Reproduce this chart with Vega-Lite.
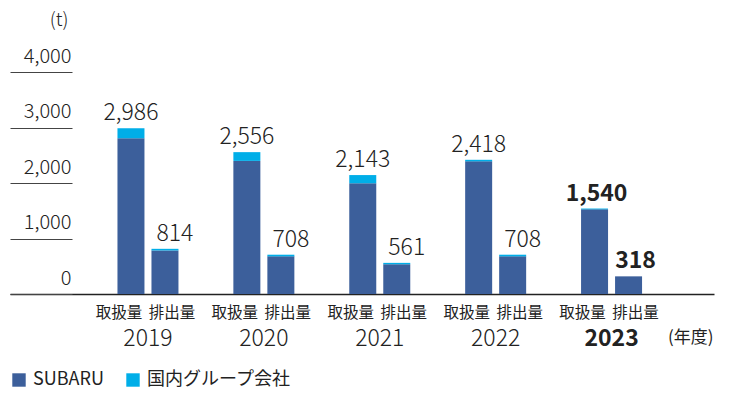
{
  "$schema": "https://vega.github.io/schema/vega-lite/v6.json",
  "width": 704,
  "height": 222,
  "autosize": "none",
  "padding": {"left": 10, "top": 72, "right": 16, "bottom": 99},
  "config": {
    "view": {"stroke": null},
    "font": "Noto Sans CJK JP",
    "text": {"font": "Noto Sans CJK JP", "color": "#222222"}
  },
  "data": {
    "values": [
      {"year": "2019", "cat": "取扱量", "company": "SUBARU", "value": 2807},
      {"year": "2019", "cat": "取扱量", "company": "国内グループ会社", "value": 179},
      {"year": "2019", "cat": "排出量", "company": "SUBARU", "value": 784},
      {"year": "2019", "cat": "排出量", "company": "国内グループ会社", "value": 30},
      {"year": "2020", "cat": "取扱量", "company": "SUBARU", "value": 2398},
      {"year": "2020", "cat": "取扱量", "company": "国内グループ会社", "value": 158},
      {"year": "2020", "cat": "排出量", "company": "SUBARU", "value": 678},
      {"year": "2020", "cat": "排出量", "company": "国内グループ会社", "value": 30},
      {"year": "2021", "cat": "取扱量", "company": "SUBARU", "value": 1995},
      {"year": "2021", "cat": "取扱量", "company": "国内グループ会社", "value": 148},
      {"year": "2021", "cat": "排出量", "company": "SUBARU", "value": 536},
      {"year": "2021", "cat": "排出量", "company": "国内グループ会社", "value": 25},
      {"year": "2022", "cat": "取扱量", "company": "SUBARU", "value": 2390},
      {"year": "2022", "cat": "取扱量", "company": "国内グループ会社", "value": 28},
      {"year": "2022", "cat": "排出量", "company": "SUBARU", "value": 678},
      {"year": "2022", "cat": "排出量", "company": "国内グループ会社", "value": 30},
      {"year": "2023", "cat": "取扱量", "company": "SUBARU", "value": 1525},
      {"year": "2023", "cat": "取扱量", "company": "国内グループ会社", "value": 15},
      {"year": "2023", "cat": "排出量", "company": "SUBARU", "value": 318},
      {"year": "2023", "cat": "排出量", "company": "国内グループ会社", "value": 0}
    ]
  },
  "encoding": {
    "x": {
      "field": "year",
      "type": "nominal",
      "scale": {"paddingInner": 0.4737, "paddingOuter": 0.774, "align": 0.599, "round": false},
      "axis": {
        "title": "(年度)",
        "domain": true,
        "domainColor": "#222222",
        "domainWidth": 1.5,
        "ticks": false,
        "labelAngle": 0,
        "labelPadding": 33,
        "labelBaseline": "top",
        "labelFontSize": 23,
        "labelColor": "#222222",
        "labelFontWeight": {"condition": {"test": "datum.value == '2023'", "value": "bold"}, "value": 300},
        "titleAnchor": "end",
        "titleAlign": "right",
        "titleBaseline": "middle",
        "titleX": 703,
        "titleY": 43.5,
        "titleFontSize": 17,
        "titleFontWeight": "normal",
        "titleColor": "#222222"
      }
    },
    "xOffset": {
      "field": "cat",
      "type": "nominal",
      "scale": {"domain": ["取扱量", "排出量"], "paddingInner": 0.206, "paddingOuter": 0}
    }
  },
  "layer": [
    {
      "mark": {"type": "bar"},
      "encoding": {
        "y": {
          "field": "value",
          "type": "quantitative",
          "stack": "zero",
          "title": "(t)",
          "scale": {"domain": [0, 4000], "nice": false},
          "axis": {
            "values": [0, 1000, 2000, 3000, 4000],
            "format": ",d",
            "domain": false,
            "grid": false,
            "ticks": true,
            "tickSize": -62,
            "tickColor": "#444444",
            "tickWidth": 1,
            "labelPadding": 1,
            "labelAlign": "right",
            "labelBaseline": "alphabetic",
            "labelOffset": -10,
            "labelFontSize": 20,
            "labelFontWeight": 300,
            "labelColor": "#222222",
            "title": "(t)",
            "titleAngle": 0,
            "titleAlign": "right",
            "titleBaseline": "alphabetic",
            "titleX": 58,
            "titleY": -47,
            "titleFontSize": 19,
            "titleFontWeight": 300,
            "titleColor": "#222222"
          }
        },
        "color": {
          "field": "company",
          "type": "nominal",
          "scale": {"domain": ["SUBARU", "国内グループ会社"], "range": ["#3c5f9b", "#00aee8"]},
          "legend": {
            "orient": "none",
            "legendX": 0,
            "legendY": 299,
            "direction": "horizontal",
            "title": null,
            "padding": 0,
            "symbolType": "square",
            "symbolSize": 180,
            "symbolStrokeWidth": 0,
            "symbolOpacity": 1,
            "labelFontSize": 18,
            "labelOffset": 5,
            "columnPadding": 20,
            "labelColor": "#222222"
          }
        },
        "order": {"field": "company", "sort": "ascending"}
      }
    },
    {
      "transform": [
        {"aggregate": [{"op": "sum", "field": "value", "as": "total"}], "groupby": ["year", "cat"]},
        {"filter": "datum.cat == '取扱量' && datum.year != '2023'"}
      ],
      "mark": {"type": "text", "baseline": "alphabetic", "dy": -8, "fontSize": 23, "fontWeight": 300},
      "encoding": {
        "y": {"field": "total", "type": "quantitative", "title": "(t)"},
        "text": {"field": "total", "type": "quantitative", "format": ",d"}
      }
    },
    {
      "transform": [
        {"aggregate": [{"op": "sum", "field": "value", "as": "total"}], "groupby": ["year", "cat"]},
        {"filter": "datum.cat == '排出量' && datum.year != '2023'"}
      ],
      "mark": {"type": "text", "baseline": "alphabetic", "dy": -8, "dx": 10, "fontSize": 23, "fontWeight": 300},
      "encoding": {
        "y": {"field": "total", "type": "quantitative", "title": "(t)"},
        "text": {"field": "total", "type": "quantitative", "format": ",d"}
      }
    },
    {
      "transform": [
        {"aggregate": [{"op": "sum", "field": "value", "as": "total"}], "groupby": ["year", "cat"]},
        {"filter": "datum.cat == '取扱量' && datum.year == '2023'"}
      ],
      "mark": {"type": "text", "baseline": "alphabetic", "dy": -8, "dx": 2, "fontSize": 23, "fontWeight": "bold"},
      "encoding": {
        "y": {"field": "total", "type": "quantitative", "title": "(t)"},
        "text": {"field": "total", "type": "quantitative", "format": ",d"}
      }
    },
    {
      "transform": [
        {"aggregate": [{"op": "sum", "field": "value", "as": "total"}], "groupby": ["year", "cat"]},
        {"filter": "datum.cat == '排出量' && datum.year == '2023'"}
      ],
      "mark": {"type": "text", "baseline": "alphabetic", "dy": -8, "dx": 7, "fontSize": 23, "fontWeight": "bold"},
      "encoding": {
        "y": {"field": "total", "type": "quantitative", "title": "(t)"},
        "text": {"field": "total", "type": "quantitative", "format": ",d"}
      }
    },
    {
      "transform": [
        {"aggregate": [{"op": "sum", "field": "value", "as": "total"}], "groupby": ["year", "cat"]},
        {"filter": "datum.cat == '取扱量'"}
      ],
      "mark": {"type": "text", "baseline": "middle", "dy": 18.5, "dx": -12, "fontSize": 15.5},
      "encoding": {
        "y": {"datum": 0},
        "text": {"field": "cat", "type": "nominal"}
      }
    },
    {
      "transform": [
        {"aggregate": [{"op": "sum", "field": "value", "as": "total"}], "groupby": ["year", "cat"]},
        {"filter": "datum.cat == '排出量'"}
      ],
      "mark": {"type": "text", "baseline": "middle", "dy": 18.5, "dx": 7, "fontSize": 15.5},
      "encoding": {
        "y": {"datum": 0},
        "text": {"field": "cat", "type": "nominal"}
      }
    }
  ]
}
